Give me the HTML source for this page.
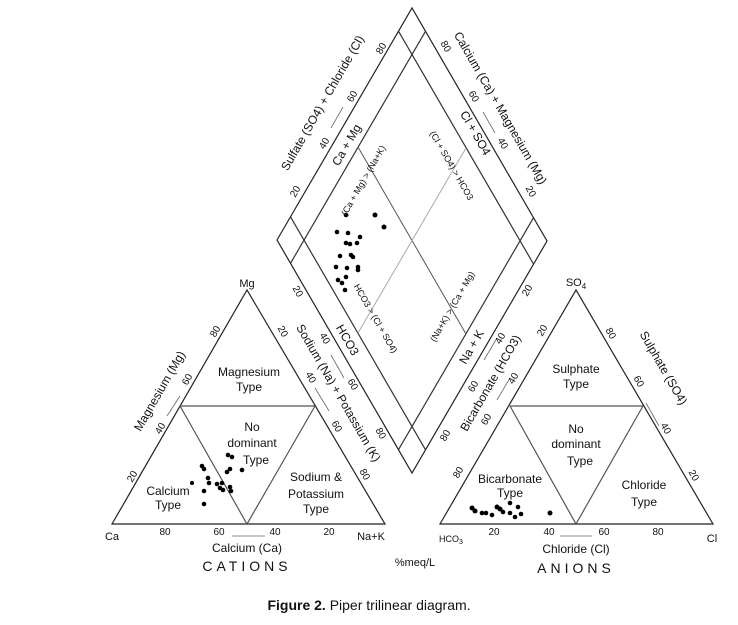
<!DOCTYPE html>
<html><head><meta charset="utf-8"><style>
html,body{margin:0;padding:0;background:#fff;}
svg{display:block;font-family:"Liberation Sans",Arial,sans-serif;}
</style></head><body>
<svg width="738" height="625" viewBox="0 0 738 625" xmlns="http://www.w3.org/2000/svg">
<g fill="none" stroke="#222" stroke-width="1.2">
<!-- left triangle -->
<polygon points="112,524 385,524 247,290"/>
<polyline points="180,406 315,406" stroke="#555"/>
<polyline points="180,406 247,524 315,406" stroke="#555"/>
<!-- right triangle -->
<polygon points="440,524 713,524 576,290"/>
<polyline points="510,406 643,406" stroke="#555"/>
<polyline points="510,406 576,524 643,406" stroke="#555"/>
<!-- diamond -->
<polygon points="277,240 412,8 547,241 412,473"/>
<line x1="290.5" y1="216.8" x2="425.5" y2="449.8" stroke="#333"/>
<line x1="398.5" y1="31.2" x2="533.5" y2="264" stroke="#333"/>
<line x1="290.5" y1="263.3" x2="425.5" y2="31.3" stroke="#333"/>
<line x1="398.5" y1="449.7" x2="533.5" y2="217.7" stroke="#333"/>
<line x1="358" y1="147" x2="466" y2="334" stroke="#555" stroke-width="1"/>
<line x1="358" y1="333" x2="466" y2="148" stroke="#aaa" stroke-width="1"/>
<!-- small arrows -->
<g stroke="#666" stroke-width="0.8">
<line x1="167" y1="416" x2="180" y2="396"/>
<line x1="331" y1="355" x2="344" y2="378"/>
<line x1="315" y1="388" x2="329" y2="411"/>
<line x1="265" y1="536" x2="232" y2="536"/>
<line x1="560" y1="536" x2="592" y2="536"/>
<line x1="646" y1="403" x2="659" y2="426"/>
<line x1="497" y1="400" x2="510" y2="378"/>
<line x1="484" y1="360" x2="497" y2="338"/>
<line x1="331" y1="128" x2="343" y2="107"/>
<line x1="483" y1="112" x2="495" y2="133"/>
</g>
</g>
<!-- dots -->
<g fill="#000">
<circle cx="375" cy="215" r="2.5"/><circle cx="384" cy="227" r="2.5"/><circle cx="346" cy="215" r="2.3"/><circle cx="337" cy="232" r="2.3"/><circle cx="348" cy="233" r="2.3"/><circle cx="360" cy="237" r="2.3"/><circle cx="346" cy="243" r="2.3"/><circle cx="350" cy="244" r="2.3"/><circle cx="357" cy="243" r="2.3"/><circle cx="340" cy="256" r="2.3"/><circle cx="351" cy="255" r="2.3"/><circle cx="353" cy="257" r="2.3"/><circle cx="336" cy="267" r="2.3"/><circle cx="347" cy="268" r="2.3"/><circle cx="358" cy="267" r="2.3"/><circle cx="358" cy="270" r="2.3"/><circle cx="338" cy="280" r="2.3"/><circle cx="342" cy="283" r="2.3"/><circle cx="346" cy="277" r="2.3"/><circle cx="345" cy="290" r="2.3"/>
<circle cx="228" cy="455" r="2.3"/><circle cx="232" cy="457" r="2.3"/><circle cx="202" cy="466" r="2.3"/><circle cx="204" cy="469" r="2.3"/><circle cx="230" cy="469" r="2.3"/><circle cx="227" cy="472" r="2.3"/><circle cx="242" cy="470" r="2.3"/><circle cx="208" cy="478" r="2.3"/><circle cx="209" cy="483" r="2.3"/><circle cx="192" cy="483" r="2"/><circle cx="217" cy="484" r="2.3"/><circle cx="222" cy="483" r="2.3"/><circle cx="220" cy="488" r="2.3"/><circle cx="223" cy="490" r="2.3"/><circle cx="230" cy="487" r="2.3"/><circle cx="231" cy="491" r="2.3"/><circle cx="204" cy="491" r="2.3"/><circle cx="204" cy="504" r="2.3"/>
<circle cx="472" cy="508" r="2.5"/><circle cx="475" cy="511" r="2.5"/><circle cx="482" cy="513" r="2.3"/><circle cx="486" cy="513" r="2.3"/><circle cx="492" cy="515" r="2.3"/><circle cx="497" cy="507" r="2.5"/><circle cx="500" cy="509" r="2.5"/><circle cx="503" cy="512" r="2.3"/><circle cx="510" cy="513" r="2.3"/><circle cx="515" cy="517" r="2.3"/><circle cx="521" cy="514" r="2.3"/><circle cx="510" cy="503" r="2.3"/><circle cx="518" cy="507" r="2.3"/><circle cx="550" cy="513" r="2.5"/>
</g>
<g fill="#111" font-size="11" text-anchor="middle">
<!-- left triangle labels -->
<text x="247" y="287">Mg</text>
<text x="112" y="540">Ca</text>
<text x="371" y="540">Na+K</text>
<text x="165" y="535" font-size="10">80</text><text x="219" y="535" font-size="10">60</text><text x="275" y="535" font-size="10">40</text><text x="329" y="535" font-size="10">20</text>
<text x="247" y="552" font-size="12">Calcium (Ca)</text>
<text x="247" y="571" font-size="14" letter-spacing="4">CATIONS</text>
<g font-size="10">
<text transform="translate(218,333) rotate(-60)">80</text>
<text transform="translate(190,381) rotate(-60)">60</text>
<text transform="translate(163,430) rotate(-60)">40</text>
<text transform="translate(135,478) rotate(-60)">20</text>
<text transform="translate(280,333) rotate(60)">20</text>
<text transform="translate(308,379) rotate(60)">40</text>
<text transform="translate(334,428) rotate(60)">60</text>
<text transform="translate(362,476) rotate(60)">80</text>
</g>
<text transform="translate(163,393) rotate(-60)" font-size="12">Magnesium (Mg)</text>
<text transform="translate(335,395) rotate(60)" font-size="12">Sodium (Na) + Potassium (K)</text>
<text x="249" y="376" font-size="12">Magnesium</text><text x="249" y="391" font-size="12">Type</text>
<text x="252" y="431" font-size="12">No</text><text x="252" y="447" font-size="12">dominant</text><text x="256" y="464" font-size="12">Type</text>
<text x="168" y="495" font-size="12">Calcium</text><text x="168" y="509" font-size="12">Type</text>
<text x="316" y="481" font-size="12">Sodium &amp;</text><text x="316" y="498" font-size="12">Potassium</text><text x="316" y="513" font-size="12">Type</text>
<text x="415" y="566" font-size="11">%meq/L</text>
<!-- right triangle labels -->
<text x="576" y="286">SO<tspan font-size="8" dy="3">4</tspan></text>
<text x="451" y="542" font-size="9">HCO<tspan font-size="7" dy="2">3</tspan></text>
<text x="712" y="542">Cl</text>
<text x="494" y="535" font-size="10">20</text><text x="549" y="535" font-size="10">40</text><text x="604" y="535" font-size="10">60</text><text x="658" y="535" font-size="10">80</text>
<text x="576" y="553" font-size="12">Chloride (Cl)</text>
<text x="576" y="573" font-size="14" letter-spacing="4">ANIONS</text>
<g font-size="10">
<text transform="translate(545,332) rotate(-60)">20</text>
<text transform="translate(516,380) rotate(-60)">40</text>
<text transform="translate(489,421) rotate(-60)">60</text>
<text transform="translate(461,474) rotate(-60)">80</text>
<text transform="translate(608,335) rotate(60)">80</text>
<text transform="translate(636,383) rotate(60)">60</text>
<text transform="translate(663,430) rotate(60)">40</text>
<text transform="translate(691,477) rotate(60)">20</text>
</g>
<text transform="translate(660,370) rotate(60)" font-size="12">Sulphate (SO4)</text>
<text transform="translate(494,385) rotate(-60)" font-size="12">Bicarbonate (HCO3)</text>
<text x="576" y="373" font-size="12">Sulphate</text><text x="576" y="388" font-size="12">Type</text>
<text x="576" y="433" font-size="12">No</text><text x="576" y="448" font-size="12">dominant</text><text x="580" y="465" font-size="12">Type</text>
<text x="510" y="483" font-size="12">Bicarbonate</text><text x="510" y="497" font-size="12">Type</text>
<text x="644" y="489" font-size="12">Chloride</text><text x="644" y="506" font-size="12">Type</text>
<!-- diamond labels -->
<text transform="translate(326,105) rotate(-60)" font-size="12">Sulfate (SO4) + Chloride (Cl)</text>
<text transform="translate(497,110) rotate(60)" font-size="12">Calcium (Ca) + Magnesium (Mg)</text>
<g font-size="10">
<text transform="translate(384,50) rotate(-60)">80</text>
<text transform="translate(355,98) rotate(-60)">60</text>
<text transform="translate(327,145) rotate(-60)">40</text>
<text transform="translate(298,193) rotate(-60)">20</text>
<text transform="translate(443,48) rotate(60)">80</text>
<text transform="translate(471,98) rotate(60)">60</text>
<text transform="translate(500,145) rotate(60)">40</text>
<text transform="translate(528,193) rotate(60)">20</text>
<text transform="translate(295,293) rotate(60)">20</text>
<text transform="translate(322,340) rotate(60)">40</text>
<text transform="translate(350,386) rotate(60)">60</text>
<text transform="translate(378,435) rotate(60)">80</text>
<text transform="translate(530,292) rotate(-60)">20</text>
<text transform="translate(503,340) rotate(-60)">40</text>
<text transform="translate(476,388) rotate(-60)">60</text>
<text transform="translate(448,437) rotate(-60)">80</text>
</g>
<text transform="translate(350,147) rotate(-60)" font-size="12">Ca + Mg</text>
<text transform="translate(472,135) rotate(60)" font-size="12">Cl + SO4</text>
<text transform="translate(344,342) rotate(60)" font-size="12">HCO3</text>
<text transform="translate(475,349) rotate(-60)" font-size="12">Na + K</text>
<text transform="translate(366,182) rotate(-60)" font-size="9">(Ca + Mg) &gt; (Na+K)</text>
<text transform="translate(449,167) rotate(60)" font-size="9">(Cl + SO4) &gt; HCO3</text>
<text transform="translate(373,320) rotate(60)" font-size="9">HCO3 &gt; (Cl + SO4)</text>
<text transform="translate(455,308) rotate(-60)" font-size="9">(Na+K) &gt; (Ca + Mg)</text>
<!-- caption -->
<text x="369" y="610" font-size="14"><tspan font-weight="bold">Figure 2.</tspan> Piper trilinear diagram.</text>
</g>
</svg>
</body></html>
